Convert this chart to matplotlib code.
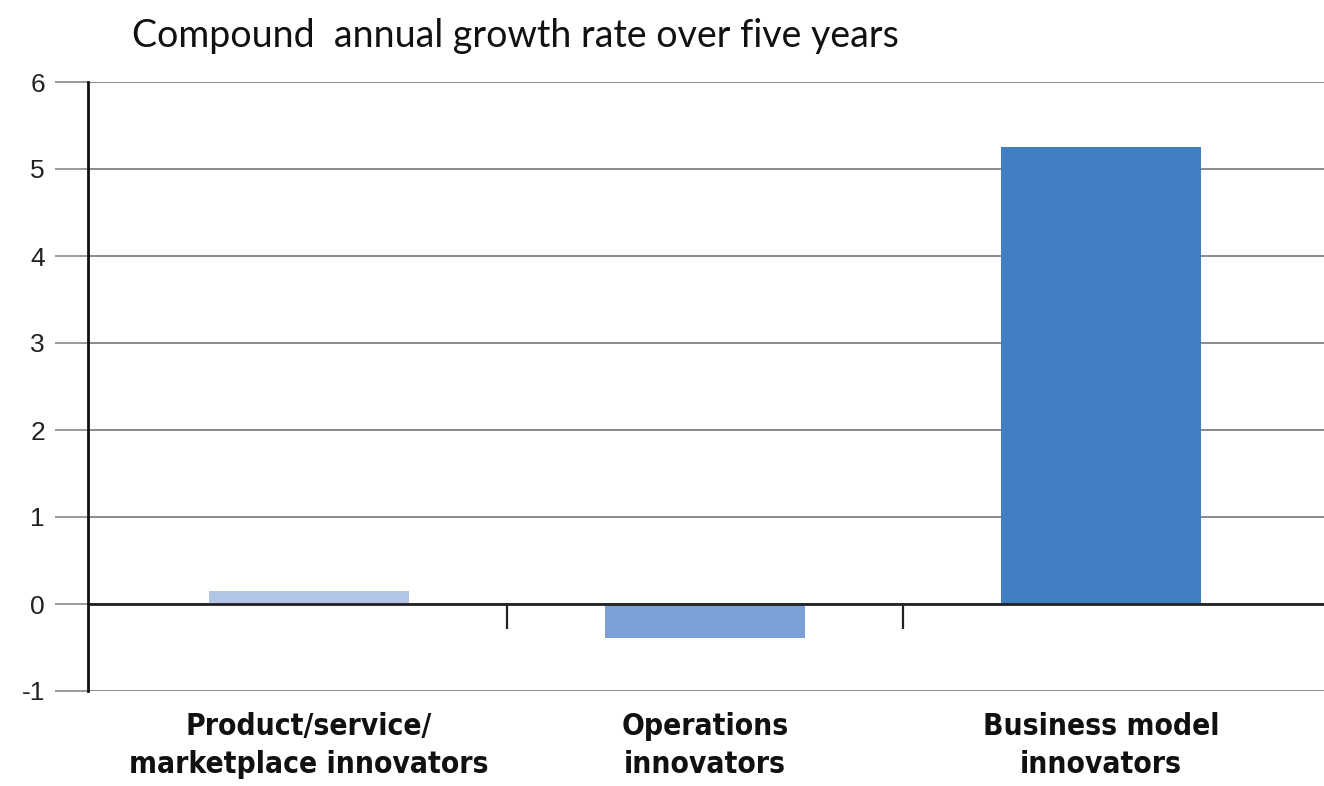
import matplotlib
matplotlib.use("Agg")
import matplotlib.pyplot as plt

categories = ["Product/service/\nmarketplace innovators", "Operations\ninnovators", "Business model\ninnovators"]
values = [0.15, -0.39, 5.25]
colors = ["#b2c5e7", "#7aa0d6", "#417fc4"]
yticks = [-1, 0, 1, 2, 3, 4, 5, 6]
title = "Compound  annual growth rate over five years"

W, H = 1324, 786
fig = plt.figure(figsize=(W / 100, H / 100), dpi=100)
ax = fig.add_axes([88 / W, 95 / H, (W - 88) / W, 609 / H])

x = list(range(len(categories)))
ax.bar(x, values, width=0.505, color=colors, zorder=3)
ax.set_xlim(-0.558, 2.563)
ax.set_ylim(-1, 6)

ax.set_yticks(yticks)
ax.set_yticklabels([str(v) for v in yticks], fontsize=19, color="#222222",
                   family=["Liberation Sans", "DejaVu Sans"])
ax.tick_params(axis="y", length=24, width=1.2, color="#8a8a8a", pad=7)
ax.yaxis.grid(True, color="#8a8a8a", linewidth=1.4, zorder=1)

ax.set_xticks(x)
ax.set_xticklabels(categories, fontsize=21.5, fontweight="bold", color="#111111",
                   family=["DejaVu Sans"], fontstretch="condensed", linespacing=1.42)
ax.tick_params(axis="x", length=0, pad=15)

for s in ["top", "right", "bottom"]:
    ax.spines[s].set_visible(False)
ax.spines["left"].set_linewidth(2)
ax.spines["left"].set_color("#111111")
ax.spines["left"].set_zorder(5)

ax.axhline(0, color="#222222", linewidth=2, zorder=4)
ax.vlines([0.5, 1.5], -0.29, 0, color="#222222", linewidth=1.6, zorder=4)

fig.text(132 / W, 1 - 47 / H, title, fontsize=27, color="#111111",
         family=["Lato", "DejaVu Sans"], va="baseline", ha="left")

fig.savefig("out.png", dpi=100)
